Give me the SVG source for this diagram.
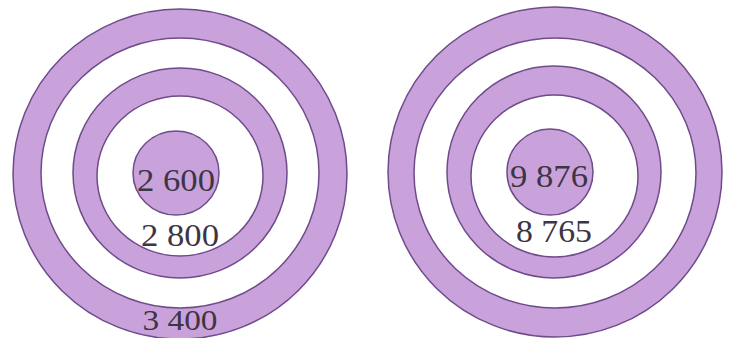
<svg xmlns="http://www.w3.org/2000/svg" width="729" height="338" viewBox="0 0 729 338">
<style>
.band{fill:#c9a2db;stroke:#6e4b8a;stroke-width:1.5}
.gap{fill:#ffffff;stroke:#6e4b8a;stroke-width:1.5}
.lbl{font-family:"Liberation Serif","DejaVu Serif",serif;font-size:31px;fill:#3d3545;text-anchor:middle}
</style>
<rect width="729" height="338" fill="#ffffff"/>
<g id="target-left">
<ellipse class="band" cx="180" cy="174" rx="167" ry="165"/>
<ellipse class="gap" cx="180" cy="173" rx="139" ry="135"/>
<ellipse class="band" cx="180" cy="173" rx="107" ry="105"/>
<ellipse class="gap" cx="180" cy="176" rx="83" ry="80"/>
<ellipse class="band" cx="176" cy="173" rx="43" ry="42"/>
<text class="lbl" x="176" y="191" textLength="78" lengthAdjust="spacingAndGlyphs">2 600</text>
<text class="lbl" x="180" y="246" textLength="78" lengthAdjust="spacingAndGlyphs">2 800</text>
<text class="lbl" x="180" y="330" style="font-size:29px" textLength="75" lengthAdjust="spacingAndGlyphs">3 400</text>
</g>
<g id="target-right">
<ellipse class="band" cx="555" cy="172" rx="167" ry="165"/>
<ellipse class="gap" cx="555" cy="173" rx="141" ry="135"/>
<ellipse class="band" cx="554" cy="172" rx="107" ry="106"/>
<ellipse class="gap" cx="554.5" cy="176" rx="83.5" ry="81"/>
<ellipse class="band" cx="550" cy="172" rx="43" ry="43"/>
<text class="lbl" x="549" y="187" textLength="78" lengthAdjust="spacingAndGlyphs">9 876</text>
<text class="lbl" x="554" y="242" textLength="76" lengthAdjust="spacingAndGlyphs">8 765</text>
</g>
<g id="connectors"/>
</svg>
